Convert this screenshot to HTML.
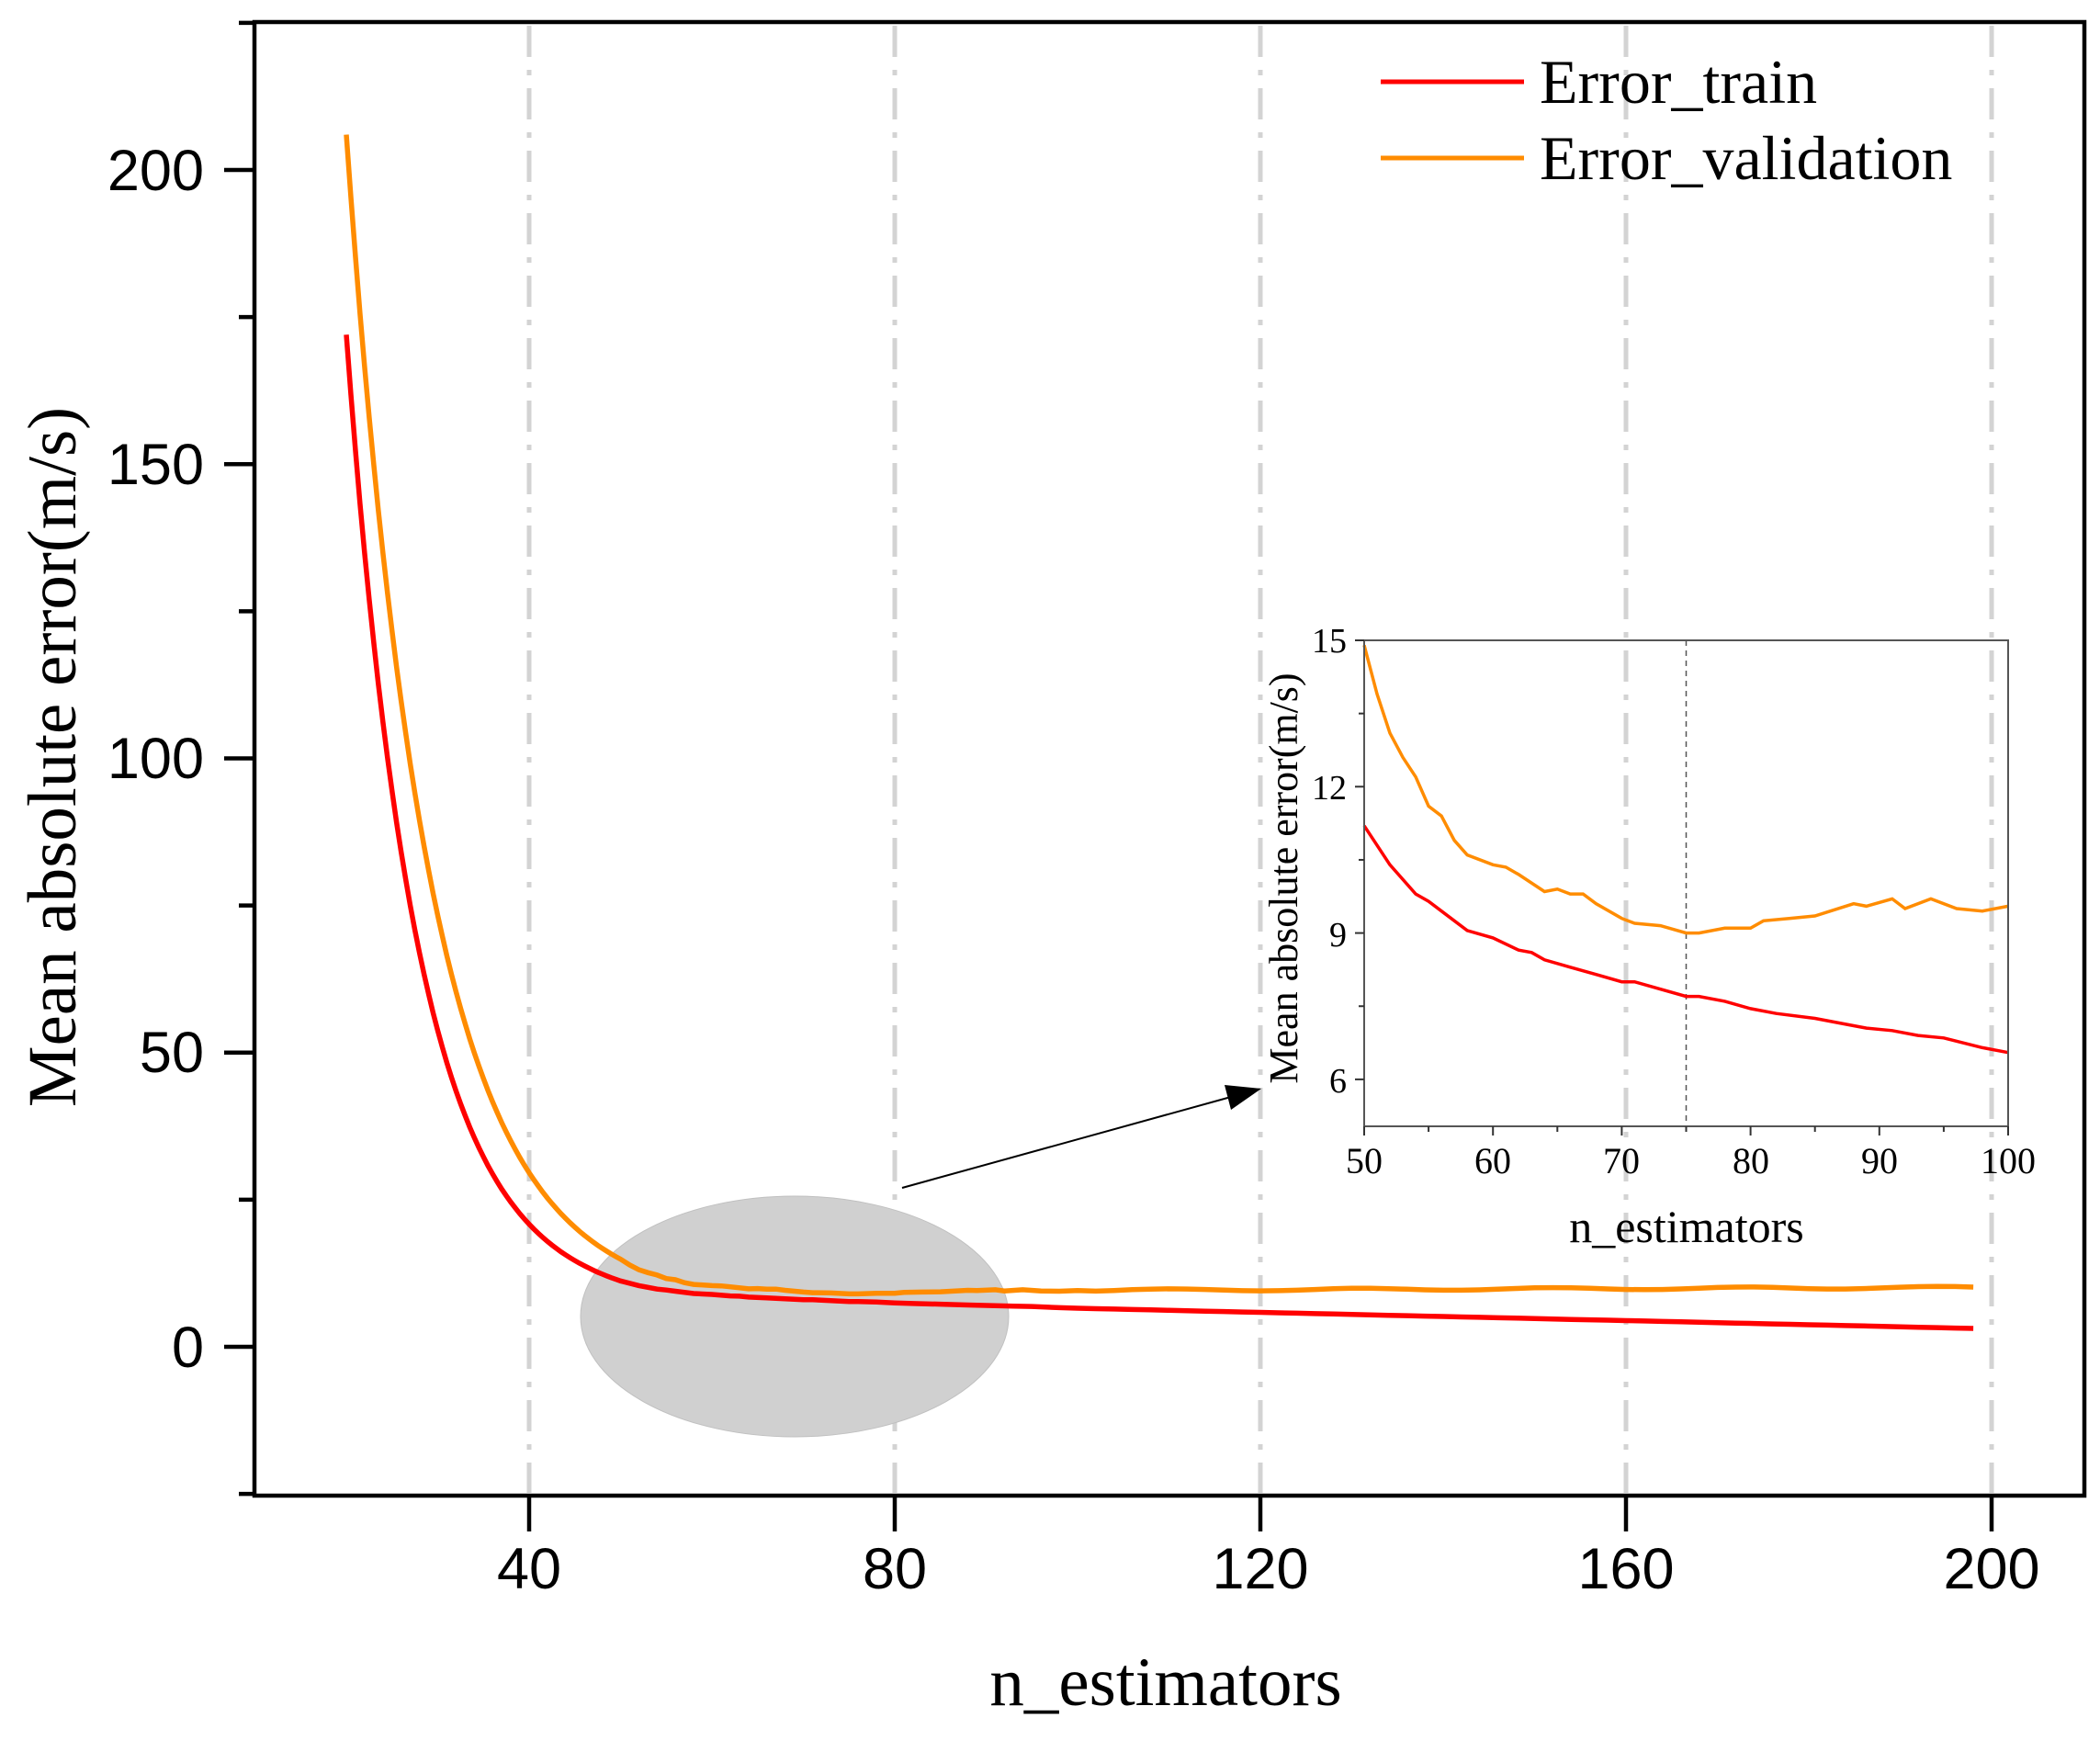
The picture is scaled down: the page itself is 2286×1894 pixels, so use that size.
<!DOCTYPE html>
<html><head><meta charset="utf-8"><style>
html,body{margin:0;padding:0;background:#fff}
svg{display:block}
.s{font-family:"Liberation Sans",Arial,sans-serif}
.r{font-family:"Liberation Serif","Times New Roman",serif}
</style></head><body>
<svg id="c" width="2286" height="1894" viewBox="0 0 2286 1894" xmlns="http://www.w3.org/2000/svg">
<g stroke="#d3d3d3" stroke-width="5" stroke-dasharray="34,14,6,14">
<line x1="576" y1="28" x2="576" y2="1625"/>
<line x1="974" y1="28" x2="974" y2="1625"/>
<line x1="1372" y1="28" x2="1372" y2="1625"/>
<line x1="1770" y1="28" x2="1770" y2="1625"/>
<line x1="2168" y1="28" x2="2168" y2="1625"/>
</g>
<ellipse cx="865" cy="1433" rx="233" ry="131" fill="#d0d0d0" stroke="#c0c0c0" stroke-width="1"/>
<path id="val" fill="none" stroke="#ff8c00" stroke-width="5.5"/>
<path id="tr" fill="none" stroke="#f00" stroke-width="5.5"/>
<rect x="277" y="24" width="1992" height="1604" fill="none" stroke="#000" stroke-width="4.5"/>
<g stroke="#000" stroke-width="4.5" id="ticks"></g>
<g class="s" font-size="63" text-anchor="end" fill="#000">
<text x="222" y="207">200</text><text x="222" y="527">150</text><text x="222" y="847">100</text><text x="222" y="1167">50</text><text x="222" y="1488">0</text>
</g>
<g class="s" font-size="63" text-anchor="middle" fill="#000">
<text x="576" y="1729">40</text><text x="974" y="1729">80</text><text x="1372" y="1729">120</text><text x="1770" y="1729">160</text><text x="2168" y="1729">200</text>
</g>
<text class="r" font-size="75" x="1269" y="1856" text-anchor="middle">n_estimators</text>
<text class="r" font-size="75" transform="translate(82,824) rotate(-90)" text-anchor="middle">Mean absolute error(m/s)</text>
<line x1="1503" y1="89" x2="1659" y2="89" stroke="#f00" stroke-width="5"/>
<line x1="1503" y1="172" x2="1659" y2="172" stroke="#ff8c00" stroke-width="5"/>
<text class="r" font-size="68" x="1676" y="112">Error_train</text>
<text class="r" font-size="68" x="1676" y="195">Error_validation</text>
<line x1="982" y1="1293" x2="1340" y2="1194" stroke="#000" stroke-width="2"/>
<polygon points="1373,1185 1333,1181 1340,1208" fill="#000"/>
<!-- inset -->
<line x1="1835.5" y1="697" x2="1835.5" y2="1226" stroke="#555" stroke-width="1.5" stroke-dasharray="6,5"/>
<path id="ival" fill="none" stroke="#ff8c00" stroke-width="3.5"/>
<path id="itr" fill="none" stroke="#f00" stroke-width="3.5"/>
<polyline points="1485,697 2186,697 2186,1226 1485,1226 1485,697" fill="none" stroke="#555" stroke-width="2"/>
<g stroke="#333" stroke-width="2" id="iticks"></g>
<g class="r" font-size="38" text-anchor="end">
<text x="1466" y="710">15</text><text x="1466" y="870">12</text><text x="1466" y="1030">9</text><text x="1466" y="1189">6</text>
</g>
<g class="r" font-size="40" text-anchor="middle">
<text x="1485" y="1277">50</text><text x="1625" y="1277">60</text><text x="1765" y="1277">70</text><text x="1906" y="1277">80</text><text x="2046" y="1277">90</text><text x="2186" y="1277">100</text>
</g>
<text class="r" font-size="50" x="1836" y="1352" text-anchor="middle">n_estimators</text>
<text class="r" font-size="44" transform="translate(1412,956) rotate(-90)" text-anchor="middle">Mean absolute error(m/s)</text>
</svg>
<script>
var X=function(x){return 576+(x-40)*9.95},Y=function(v){return 1466-v*6.405};
var IX=function(x){return 1485+(x-50)*14.02},IY=function(v){return 697+(15-v)*53.1};
var O=[[50,14.9],[51,13.9],[52,13.1],[53,12.6],[54,12.2],[55,11.6],[56,11.4],[57,10.9],[58,10.6],[60,10.4],[61,10.35],[62,10.2],[64,9.85],[65,9.9],[66,9.8],[67,9.8],[68,9.6],[70,9.3],[71,9.2],[73,9.15],[75,9.0],[76,9.0],[78,9.1],[80,9.1],[81,9.25],[83,9.3],[85,9.35],[88,9.6],[89,9.55],[91,9.7],[92,9.5],[94,9.7],[96,9.5],[98,9.45],[100,9.55]];
var R=[[50,11.2],[52,10.4],[54,9.8],[55,9.65],[56,9.45],[58,9.05],[60,8.9],[62,8.65],[63,8.6],[64,8.45],[66,8.3],[68,8.15],[70,8.0],[71,8.0],[73,7.85],[75,7.7],[76,7.7],[78,7.6],[80,7.45],[82,7.35],[85,7.25],[88,7.1],[89,7.05],[91,7.0],[93,6.9],[95,6.85],[98,6.65],[100,6.55]];
function ip(a,f,g){return a.map(function(p,i){return (i?"L":"M")+f(p[0]).toFixed(1)+","+g(p[1]).toFixed(1)}).join("")}
document.getElementById("ival").setAttribute("d",ip(O,IX,IY));
document.getElementById("itr").setAttribute("d",ip(R,IX,IY));
function ft(x){return 10.7+161.3*Math.exp(-0.13*(x-20))}
function fv(x){return 10+196*Math.exp(-0.112*(x-20))}
var ct=11.2-ft(50), cv=14.9-fv(50);
var tv=[],vv=[];
for(var x=20;x<50;x+=0.5){var w=(x-20)/30;tv.push([x,ft(x)+ct*w]);vv.push([x,fv(x)+cv*w]);}
O.forEach(function(p){vv.push(p)});R.forEach(function(p){tv.push(p)});
for(var x=102;x<=199;x+=2){tv.push([x,6.55-(x-100)*0.035]);vv.push([x,9.6+0.2*Math.sin(x*0.3)+(x-100)*0.005]);}
document.getElementById("val").setAttribute("d",ip(vv,X,Y));
document.getElementById("tr").setAttribute("d",ip(tv,X,Y));
var t="";
[0,50,100,150,200].forEach(function(v){t+='<line x1="244" y1="'+Y(v)+'" x2="277" y2="'+Y(v)+'"/>'});
[-25,25,75,125,175,225].forEach(function(v){var y=Y(v);if(y>24&&y<1628)t+='<line x1="260" y1="'+y+'" x2="277" y2="'+y+'"/>'});
[40,80,120,160,200].forEach(function(v){t+='<line x1="'+X(v)+'" y1="1628" x2="'+X(v)+'" y2="1667"/>'});
document.getElementById("ticks").innerHTML=t;
var s="";
for(var x=50;x<=100;x+=5){var l=(x%10==0)?10:6;s+='<line x1="'+IX(x)+'" y1="1226" x2="'+IX(x)+'" y2="'+(1226+l)+'"/>'}
[6,7.5,9,10.5,12,13.5,15].forEach(function(v){var l=(v%3==0)?10:6;s+='<line x1="1485" y1="'+IY(v)+'" x2="'+(1485-l)+'" y2="'+IY(v)+'"/>'});
document.getElementById("iticks").innerHTML=s;
</script>
</body></html>
